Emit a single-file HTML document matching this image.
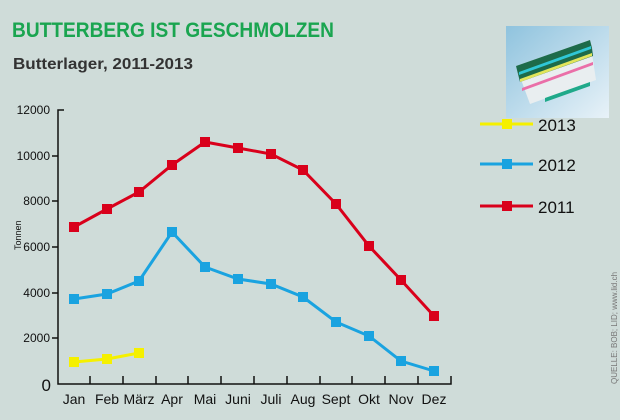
<!DOCTYPE html>
<html><head><meta charset="utf-8"><style>
body{margin:0;background:#cfdcd9;}
svg{display:block;font-family:"Liberation Sans",sans-serif;}
</style></head><body>
<svg width="620" height="420" viewBox="0 0 620 420">
<rect width="620" height="420" fill="#cfdcd9"/>
<text x="12" y="37" font-size="21" font-weight="bold" fill="#1aa550" transform="scale(1,1)" textLength="322" lengthAdjust="spacingAndGlyphs">BUTTERBERG IST GESCHMOLZEN</text>
<text x="13" y="69" font-size="16" font-weight="bold" fill="#333" textLength="180" lengthAdjust="spacingAndGlyphs">Butterlager, 2011-2013</text>
<defs><linearGradient id="g" x1="0" y1="0" x2="1" y2="1"><stop offset="0" stop-color="#8fc3de"/><stop offset="1" stop-color="#e8f2f8"/></linearGradient></defs>
<rect x="506" y="26" width="103" height="92" fill="url(#g)"/>
<polygon points="516,66 590,40 596,80 530,104" fill="#e9eef0"/>
<polygon points="516,66 590,40 592,48 518,74" fill="#1d6b4a"/>
<polygon points="518,74 592,48 593,56 520,82" fill="#1d6b4a"/>
<polygon points="519,72 591,46 591,49 519,75" fill="#2fc7d6"/>
<polygon points="520,79 592,53 592,56 520,82" fill="#e2e55a"/>
<polygon points="522,88 593,62 593,65 522,91" fill="#ea6fa8"/>
<polygon points="545,98 590,82 590,86 545,102" fill="#1fa98a"/>
<g stroke="#111" stroke-width="1.5" fill="none">
<path d="M64,110 H58 V384 H451 V376"/>
<path d="M52,156H58M52,201H58M52,247H58M52,293H58M52,338H58"/>
<path d="M90,384v-8M123,384v-8M156,384v-8M188,384v-8M221,384v-8M254,384v-8M287,384v-8M320,384v-8M352,384v-8M385,384v-8M418,384v-8"/>
</g>
<g font-size="12" fill="#111" text-anchor="end">
<text x="50" y="114">12000</text><text x="50" y="160">10000</text><text x="50" y="205">8000</text>
<text x="50" y="251">6000</text><text x="50" y="297">4000</text><text x="50" y="342">2000</text>
<text x="51" y="391" font-size="17">0</text>
</g>
<text transform="translate(21,250) rotate(-90)" font-size="9" fill="#111">Tonnen</text>
<g font-size="14" fill="#111" text-anchor="middle">
<text x="74" y="404">Jan</text><text x="107" y="404">Feb</text><text x="139" y="404">März</text><text x="172" y="404">Apr</text>
<text x="205" y="404">Mai</text><text x="238" y="404">Juni</text><text x="271" y="404">Juli</text><text x="303" y="404">Aug</text>
<text x="336" y="404">Sept</text><text x="369" y="404">Okt</text><text x="401" y="404">Nov</text><text x="434" y="404">Dez</text>
</g>
<polyline fill="none" stroke="#d9001b" stroke-width="3" points="74,227 107,209 139,192 172,165 205,142 238,148 271,154 303,170 336,204 369,246 401,280 434,316"/>
<g fill="#d9001b"><rect x="69" y="222" width="10" height="10"/><rect x="102" y="204" width="10" height="10"/><rect x="134" y="187" width="10" height="10"/><rect x="167" y="160" width="10" height="10"/><rect x="200" y="137" width="10" height="10"/><rect x="233" y="143" width="10" height="10"/><rect x="266" y="149" width="10" height="10"/><rect x="298" y="165" width="10" height="10"/><rect x="331" y="199" width="10" height="10"/><rect x="364" y="241" width="10" height="10"/><rect x="396" y="275" width="10" height="10"/><rect x="429" y="311" width="10" height="10"/></g>
<polyline fill="none" stroke="#1aa3e0" stroke-width="3" points="74,299 107,294 139,281 172,232 205,267 238,279 271,284 303,297 336,322 369,336 401,361 434,371"/>
<g fill="#1aa3e0"><rect x="69" y="294" width="10" height="10"/><rect x="102" y="289" width="10" height="10"/><rect x="134" y="276" width="10" height="10"/><rect x="167" y="227" width="10" height="10"/><rect x="200" y="262" width="10" height="10"/><rect x="233" y="274" width="10" height="10"/><rect x="266" y="279" width="10" height="10"/><rect x="298" y="292" width="10" height="10"/><rect x="331" y="317" width="10" height="10"/><rect x="364" y="331" width="10" height="10"/><rect x="396" y="356" width="10" height="10"/><rect x="429" y="366" width="10" height="10"/></g>
<polyline fill="none" stroke="#f5f000" stroke-width="3" points="74,362 107,359 139,353"/>
<g fill="#f5f000"><rect x="69" y="357" width="10" height="10"/><rect x="102" y="354" width="10" height="10"/><rect x="134" y="348" width="10" height="10"/></g>
<g stroke-width="3"><line x1="480" y1="124" x2="533" y2="124" stroke="#f5f000"/><line x1="480" y1="164" x2="533" y2="164" stroke="#1aa3e0"/><line x1="480" y1="206" x2="533" y2="206" stroke="#d9001b"/></g>
<rect x="502" y="119" width="10" height="10" fill="#f5f000"/><rect x="502" y="159" width="10" height="10" fill="#1aa3e0"/><rect x="502" y="201" width="10" height="10" fill="#d9001b"/>
<g font-size="17" fill="#111"><text x="538" y="131">2013</text><text x="538" y="171">2012</text><text x="538" y="213">2011</text></g>
<text transform="translate(617,384) rotate(-90)" font-size="8" fill="#777">QUELLE: BOB; LID; www.lid.ch</text>
</svg>
</body></html>
